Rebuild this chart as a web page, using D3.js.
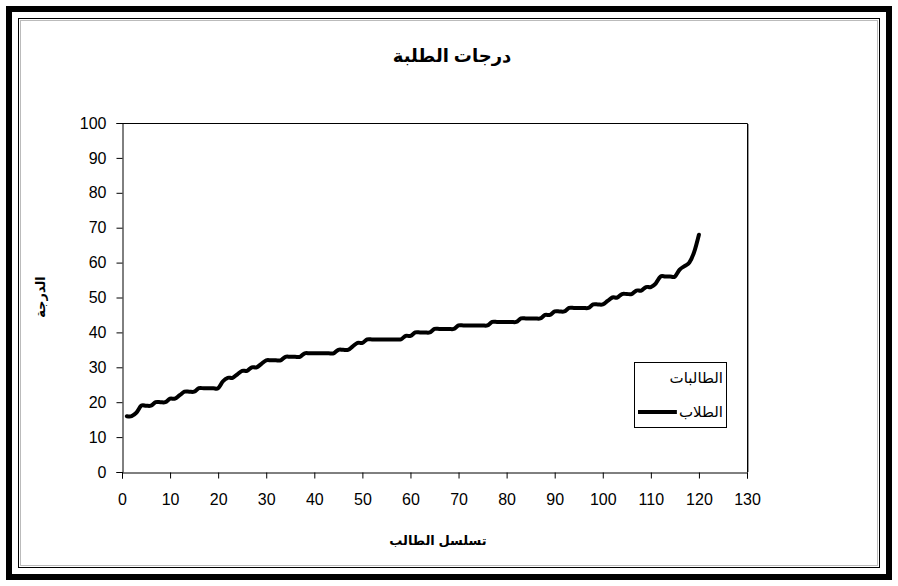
<!DOCTYPE html>
<html>
<head>
<meta charset="utf-8">
<script src="https://cdn.jsdelivr.net/npm/d3@7"></script>
<style>
  body { margin: 0; background: #fff; }
  svg { display: block; }
</style>
</head>
<body>
<div id="chart"></div>
<script>
// chart data
var students = d3.range(1, 121);
var scores = [
  16, 16, 17, 19, 19, 19, 20, 20, 20, 21,
  21, 22, 23, 23, 23, 24, 24, 24, 24, 24,
  26, 27, 27, 28, 29, 29, 30, 30, 31, 32,
  32, 32, 32, 33, 33, 33, 33, 34, 34, 34,
  34, 34, 34, 34, 35, 35, 35, 36, 37, 37,
  38, 38, 38, 38, 38, 38, 38, 38, 39, 39,
  40, 40, 40, 40, 41, 41, 41, 41, 41, 42,
  42, 42, 42, 42, 42, 42, 43, 43, 43, 43,
  43, 43, 44, 44, 44, 44, 44, 45, 45, 46,
  46, 46, 47, 47, 47, 47, 47, 48, 48, 48,
  49, 50, 50, 51, 51, 51, 52, 52, 53, 53,
  54, 56, 56, 56, 56, 58, 59, 60, 63, 68
];
var xTicks = d3.range(0, 131, 10);
var yTicks = d3.range(0, 101, 10);
var legendNames = ["الطالبات", "الطلاب"];
var title = "درجات الطلبة";
var xTitle = "تسلسل الطالب";
var yTitle = "الدرجة";

var W = 898, H = 586;
var plot = { left: 122, top: 123, right: 747, bottom: 472 };
var font = "'Liberation Sans', Arial, 'DejaVu Sans', sans-serif";

var svg = d3.select("#chart")
  .append("svg")
  .attr("width", W)
  .attr("height", H);

// outer frames
svg.append("rect")
  .attr("x", 9).attr("y", 9)
  .attr("width", W - 18).attr("height", H - 18)
  .attr("fill", "none")
  .attr("stroke", "#000")
  .attr("stroke-width", 6);
svg.append("rect")
  .attr("x", 18.5).attr("y", 18.5)
  .attr("width", W - 37).attr("height", H - 37)
  .attr("fill", "none")
  .attr("stroke", "#000")
  .attr("stroke-width", 1);
svg.append("rect")
  .attr("x", 20.5).attr("y", 20.5)
  .attr("width", W - 41).attr("height", H - 41)
  .attr("fill", "none")
  .attr("stroke", "#bbb")
  .attr("stroke-width", 1);

// scales
var xScale = d3.scaleLinear()
  .domain([0, 130])
  .range([plot.left, plot.right]);
var yScale = d3.scaleLinear()
  .domain([0, 100])
  .range([plot.bottom, plot.top]);

// plot area border (top and right)
svg.append("path")
  .attr("d", "M" + (plot.left + 0.5) + "," + (plot.top + 0.5) + "H" + (plot.right + 0.5) + "V" + (plot.bottom + 0.5))
  .attr("fill", "none")
  .attr("stroke", "#000");
svg.append("line")
  .attr("x1", plot.right + 1.5).attr("x2", plot.right + 1.5)
  .attr("y1", plot.top + 1).attr("y2", plot.bottom)
  .attr("stroke", "#999");

//Create X Axis
svg.append("g")
  .attr("transform", "translate(0," + (plot.bottom + 0.5) + ")")
  .call(d3.axisBottom(xScale).tickValues(xTicks).tickSize(6).tickPadding(15));

//Create Y axis
svg.append("g")
  .attr("transform", "translate(" + (plot.left + 0.5) + ",0)")
  .call(d3.axisLeft(yScale).tickValues(yTicks).tickSize(6).tickPadding(10));

svg.selectAll(".domain").attr("stroke", "#000");
svg.selectAll(".tick line").attr("stroke", "#000");
svg.selectAll(".tick text")
  .style("font-family", font)
  .style("font-size", "16px")
  .attr("fill", "#000");

// the line
var line = d3.line()
  .x(function(d, i) { return xScale(students[i]); })
  .y(function(d) { return yScale(d); })
  .curve(d3.curveCardinal.tension(0));

svg.append("path")
  .datum(scores)
  .attr("d", line)
  .attr("fill", "none")
  .attr("stroke", "#000")
  .attr("stroke-width", 4)
  .attr("stroke-linejoin", "round")
  .attr("stroke-linecap", "round");

// title
svg.append("text")
  .attr("x", 452)
  .attr("y", 62)
  .attr("text-anchor", "middle")
  .style("font-family", font)
  .style("font-size", "18px")
  .style("font-weight", "bold")
  .text(title);

// x axis title
svg.append("text")
  .attr("x", 438)
  .attr("y", 545)
  .attr("text-anchor", "middle")
  .style("font-family", font)
  .style("font-size", "13px")
  .style("font-weight", "bold")
  .text(xTitle);

// y axis title
svg.append("text")
  .attr("transform", "translate(45,297)rotate(-90)")
  .attr("text-anchor", "middle")
  .style("font-family", font)
  .style("font-size", "13px")
  .style("font-weight", "bold")
  .text(yTitle);

// legend
var legend = svg.append("g");
legend.append("rect")
  .attr("x", 634.5).attr("y", 362.5)
  .attr("width", 92).attr("height", 65)
  .attr("fill", "#fff")
  .attr("stroke", "#000");

var legendText = legend.selectAll("text")
  .data(legendNames)
  .enter()
  .append("text")
  .attr("x", 723)
  .attr("y", function(d, i) { return 383 + i * 34; })
  .attr("text-anchor", "end")
  .style("font-family", font)
  .style("font-size", "15px")
  .text(function(d) { return d; });

// key line runs up to the start of the second label
var w2 = legendText.nodes()[1].getComputedTextLength();
legend.append("line")
  .attr("x1", 638).attr("x2", 723 - w2 - 2)
  .attr("y1", 412).attr("y2", 412)
  .attr("stroke", "#000")
  .attr("stroke-width", 4);
</script>
</body>
</html>
